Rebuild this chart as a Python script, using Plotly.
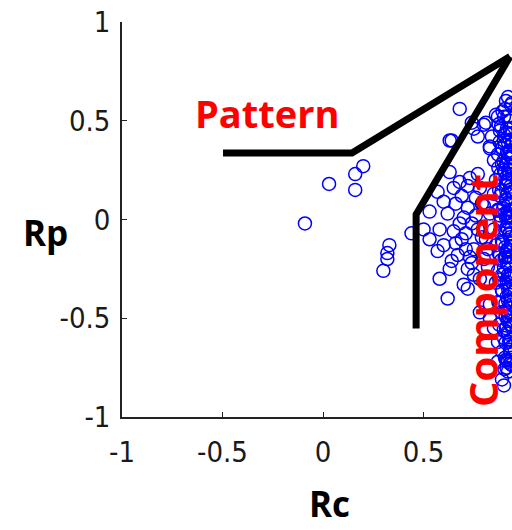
import plotly.graph_objects as go

# ---- data (Rc, Rp) ----
rc_outliers = [-0.09, 0.03, 0.16, 0.20, 0.16, 0.33, 0.32, 0.32, 0.30, 0.44]
rp_outliers = [-0.02, 0.18, 0.23, 0.27, 0.15, -0.13, -0.17, -0.20, -0.26, -0.07]

rc_upper = [0.68, 0.63, 0.74, 0.80, 0.86, 0.91, 0.83, 0.77, 0.88, 0.93, 0.95, 0.90, 0.85, 0.92,
            0.97, 0.96, 0.99, 0.94, 0.89, 0.98, 0.64, 0.75, 0.81, 0.87, 0.92, 0.83]
rp_upper = [0.56, 0.40, 0.49, 0.48, 0.53, 0.60, 0.37, 0.42, 0.45, 0.50, 0.57, 0.40, 0.30, 0.33,
            0.44, 0.63, 0.52, 0.38, 0.28, 0.35, 0.40, 0.46, 0.49, 0.52, 0.62, 0.36]

rc_middle = [0.57, 0.68, 0.65, 0.72, 0.76, 0.72, 0.62, 0.53, 0.50, 0.58, 0.65, 0.69, 0.77, 0.83,
             0.85, 0.81, 0.60, 0.57, 0.67, 0.75, 0.80, 0.72, 0.63, 0.58, 0.70, 0.78, 0.87, 0.86,
             0.53, 0.60, 0.77, 0.63, 0.62, 0.78, 0.83, 0.87, 0.87, 0.90, 0.72, 0.83, 0.89, 0.92,
             0.86, 0.87, 0.85, 0.88, 0.86, 0.88, 0.85, 0.87, 0.84, 0.88, 0.89,
             0.70, 0.74, 0.66, 0.79, 0.71, 0.64, 0.73, 0.69, 0.76, 0.82, 0.79, 0.66, 0.74, 0.71,
             0.80, 0.68, 0.75, 0.82, 0.78, 0.73]
rp_middle = [0.14, 0.19, 0.16, 0.17, 0.11, 0.06, 0.03, 0.04, -0.05, -0.05, -0.06, -0.10, -0.05, 0.03,
             0.13, -0.10, -0.13, -0.16, -0.18, -0.15, -0.20, -0.25, -0.25, -0.30, -0.33, -0.30, -0.26, -0.13,
             -0.10, 0.09, 0.23, 0.24, -0.40, -0.47, -0.50, -0.62, -0.72, -0.84, -0.35, -0.43, -0.81, -0.72,
             0.20, 0.05, -0.05, -0.18, -0.32, -0.42, -0.55, 0.33, 0.42, 0.02, -0.28,
             0.01, -0.02, -0.12, 0.08, -0.07, -0.21, -0.19, 0.12, 0.02, -0.15, -0.09, 0.08, -0.22, -0.15,
             0.07, -0.02, -0.28, -0.24, 0.16, 0.21]

rc_band = [0.95, 0.97, 0.93, 0.99, 0.96, 0.92, 0.98, 0.94, 0.97, 0.91, 0.99, 0.95, 0.93, 0.98, 0.96,
           0.92, 0.99, 0.94, 0.97, 0.91, 0.98, 0.95, 0.93, 0.99, 0.96, 0.92, 0.98, 0.94, 0.97, 0.91,
           0.99, 0.95, 0.93, 0.98, 0.96, 0.92, 0.99,
           0.90, 0.94, 0.98, 0.91, 0.95, 0.89, 0.93, 0.97, 0.90, 0.96, 0.92, 0.99, 0.88, 0.94, 0.97,
           0.90, 0.95, 0.91, 0.99, 0.93, 0.96, 0.89, 0.92, 0.99, 0.95, 0.90, 0.97, 0.93, 0.89, 0.95,
           0.99, 0.91, 0.97, 0.93, 0.96, 0.90, 0.98, 0.94, 0.91, 0.97, 0.95,
           0.96, 0.92, 0.98, 0.95, 0.93, 0.96, 0.91, 0.98, 0.94, 0.97, 0.92, 0.95, 0.98, 0.93, 0.96,
           0.99, 0.92, 0.97, 0.94, 0.98, 0.92, 0.96, 0.93, 0.99, 0.95, 0.97, 0.93,
           0.935, 0.905, 0.955, 0.925, 0.945, 0.915, 0.935, 0.952, 0.903, 0.928, 0.946, 0.937, 0.913, 0.956,
           0.924, 0.907, 0.944, 0.933, 0.918, 0.953, 0.926, 0.941, 0.904, 0.936, 0.957, 0.912, 0.927, 0.947,
           0.934, 0.906, 0.954, 0.923, 0.916, 0.943, 0.938, 0.951, 0.902, 0.929, 0.945, 0.914, 0.932, 0.955,
           0.921, 0.908, 0.948, 0.936, 0.917, 0.952, 0.925, 0.942, 0.931, 0.905, 0.951, 0.913,
           0.893, 0.917, 0.941, 0.886, 0.958, 0.902, 0.929, 0.949, 0.891, 0.915,
           0.938, 0.897, 0.956, 0.921, 0.884, 0.945, 0.909, 0.931, 0.889, 0.953,
           0.912, 0.937, 0.896, 0.948, 0.919, 0.885, 0.942, 0.906, 0.927, 0.957,
           0.894, 0.933, 0.911, 0.951, 0.887, 0.924, 0.946, 0.901, 0.935, 0.914,
           0.954, 0.892, 0.926, 0.943, 0.907, 0.932, 0.888, 0.955, 0.918, 0.939,
           0.899, 0.922, 0.952, 0.908, 0.934, 0.890, 0.947, 0.916, 0.938, 0.903,
           0.873, 0.878, 0.872, 0.876, 0.871, 0.879, 0.874, 0.877, 0.872, 0.876,
           0.945, 0.928, 0.951, 0.905, 0.943, 0.917, 0.952, 0.904, 0.948, 0.921]
rp_band = [0.55, 0.49, 0.46, 0.41, 0.36, 0.31, 0.27, 0.23, 0.19, 0.17, 0.13, 0.09, 0.05, 0.02, -0.02,
           -0.05, -0.08, -0.12, -0.15, -0.19, -0.22, -0.26, -0.30, -0.33, -0.37, -0.41, -0.44, -0.48, -0.52, -0.55,
           -0.58, -0.62, -0.66, -0.69, -0.73, -0.77, -0.80,
           0.52, 0.59, 0.57, 0.44, 0.42, 0.36, 0.34, 0.31, 0.25, 0.26, 0.20, 0.21, 0.12, 0.14, 0.08,
           0.07, 0.00, 0.01, -0.03, -0.09, -0.10, -0.11, -0.15, -0.17, -0.20, -0.24, -0.28, -0.34, -0.36, -0.39,
           -0.40, -0.46, -0.47, -0.53, -0.56, -0.60, -0.63, -0.70, -0.71, -0.77, -0.81,
           0.51, 0.39, 0.38, 0.30, 0.27, 0.22, 0.10, 0.10, 0.04, -0.05, -0.01, -0.13, -0.12, -0.19, -0.23,
           -0.26, -0.28, -0.35, -0.43, -0.50, -0.49, -0.59, -0.61, -0.66, -0.68, -0.74, -0.73,
           0.58, 0.56, 0.53, 0.50, 0.48, 0.46, 0.43, 0.40, 0.38, 0.35, 0.33, 0.31, 0.28, 0.25,
           0.23, 0.21, 0.18, 0.15, 0.13, 0.11, 0.08, 0.05, 0.03, 0.01, -0.02, -0.04, -0.07, -0.10,
           -0.12, -0.14, -0.17, -0.19, -0.22, -0.25, -0.27, -0.29, -0.32, -0.35, -0.37, -0.39, -0.42, -0.45,
           -0.47, -0.49, -0.52, -0.54, -0.57, -0.60, -0.62, -0.64, -0.67, -0.70, -0.72, -0.75,
           0.547, 0.521, 0.497, 0.472, 0.451, 0.427, 0.404, 0.386, 0.362, 0.341,
           0.318, 0.296, 0.274, 0.252, 0.231, 0.209, 0.186, 0.167, 0.143, 0.122,
           0.101, 0.078, 0.057, 0.036, 0.014, -0.008, -0.031, -0.052, -0.076, -0.094,
           -0.117, -0.139, -0.161, -0.183, -0.206, -0.228, -0.249, -0.271, -0.293, -0.316,
           -0.337, -0.359, -0.381, -0.403, -0.426, -0.447, -0.469, -0.491, -0.513, -0.536,
           -0.558, -0.579, -0.602, -0.624, -0.646, -0.668, -0.691, -0.713, -0.736, -0.757,
           0.482, 0.392, 0.262, 0.148, 0.044, -0.064, -0.172, -0.304, -0.418, -0.532,
           0.556, 0.462, 0.352, 0.238, 0.129, 0.032, -0.061, -0.192, -0.262, -0.352]

rc = rc_outliers + rc_upper + rc_middle + rc_band
rp = rp_outliers + rp_upper + rp_middle + rp_band

x_ticks = [-1, -0.5, 0, 0.5]
x_tick_text = ["-1", "-0.5", "0", "0.5"]
y_ticks = [-1, -0.5, 0, 0.5, 1]
y_tick_text = ["-1", "-0.5", "0", "0.5", "1"]

fig = go.Figure()
fig.add_trace(go.Scatter(
    x=rc, y=rp, mode="markers",
    marker=dict(symbol="circle-open", size=13, color="#0000ff", line=dict(width=1.5, color="#0000ff")),
    cliponaxis=False, showlegend=False,
))

tick_font = dict(family="DejaVu Sans Condensed, Liberation Sans Narrow, Liberation Sans", size=29, color="#1a1a1a")
fig.update_xaxes(range=[-1, 0.94], tickvals=x_ticks, ticktext=x_tick_text, showgrid=False, zeroline=False,
                 showline=True, linecolor="#222222", linewidth=1.5, ticks="inside", ticklen=5, tickwidth=1,
                 tickcolor="#222222", tickfont=tick_font, ticklabelstandoff=8)
fig.update_yaxes(range=[-1, 1], tickvals=y_ticks, ticktext=y_tick_text, showgrid=False, zeroline=False,
                 showline=True, linecolor="#222222", linewidth=1.5, ticks="inside", ticklen=5, tickwidth=1,
                 tickcolor="#222222", tickfont=tick_font, ticklabelstandoff=4)

# pointer lines
line_style = dict(color="black", width=7)
fig.add_shape(type="path", path="M -0.4975 0.337 L 0.144 0.337 L 0.93 0.825", xref="x", yref="y", line=line_style)
fig.add_shape(type="path", path="M 0.463 -0.552 L 0.463 0.025 L 0.93 0.825", xref="x", yref="y", line=line_style)

label_font = dict(family="Open Sans", size=38, color="#ff0000")
fig.add_annotation(text="<b>Pattern</b>", x=-0.274, y=0.537, xref="x", yref="y", showarrow=False,
                   font=label_font, xanchor="center", yanchor="middle")
fig.add_annotation(text="<b>Component</b>", x=1.0, y=0.32, xref="paper", yref="paper", showarrow=False,
                   font=dict(family="Open Sans", size=40, color="#ff0000"), textangle=-90,
                   xanchor="right", yanchor="middle", xshift=0)

title_font = dict(family="Open Sans", size=35, color="black")
fig.add_annotation(text="<b>Rp</b>", x=-0.195, y=0.468, xref="paper", yref="paper", showarrow=False,
                   font=title_font, xanchor="center", yanchor="middle")
fig.add_annotation(text="<b>Rc</b>", x=0.533, y=-0.284, xref="paper", yref="paper", showarrow=False,
                   font=title_font, xanchor="center", yanchor="bottom")

fig.update_layout(width=512, height=530, margin=dict(l=122, r=0, t=22, b=113),
                  plot_bgcolor="white", paper_bgcolor="white")
fig.write_html("out.html")
